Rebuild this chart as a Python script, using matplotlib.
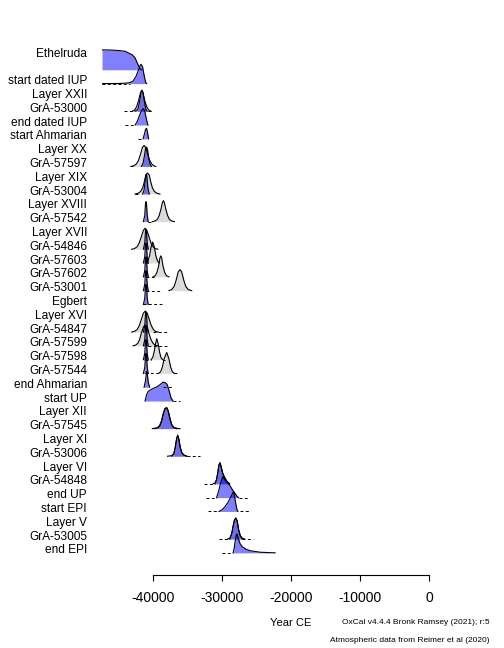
import matplotlib
matplotlib.use('Agg')
import matplotlib.pyplot as plt

plt.rcParams['font.family'] = ['Liberation Sans', 'DejaVu Sans']
plt.rcParams['axes.unicode_minus'] = False

# row labels, top to bottom ('' = unlabelled row under the sequence name)
labels = ['Ethelruda', '', 'start dated IUP', 'Layer XXII', 'GrA-53000', 'end dated IUP',
          'start Ahmarian', 'Layer XX', 'GrA-57597', 'Layer XIX', 'GrA-53004', 'Layer XVIII',
          'GrA-57542', 'Layer XVII', 'GrA-54846', 'GrA-57603', 'GrA-57602', 'GrA-53001',
          'Egbert', 'Layer XVI', 'GrA-54847', 'GrA-57599', 'GrA-57598', 'GrA-57544',
          'end Ahmarian', 'start UP', 'Layer XII', 'GrA-57545', 'Layer XI', 'GrA-53006',
          'Layer VI', 'GrA-54848', 'end UP', 'start EPI', 'Layer V', 'GrA-53005', 'end EPI']

x_ticks = [-40000, -30000, -20000, -10000, 0]

# likelihoods (unmodelled dates): years CE, relative probability
likelihoods = {
  'GrA-53000': ([-43000, -42700, -42400, -42100, -41850, -41650, -41450, -41200, -40900, -40600, -40300],
                [0, 0.05, 0.2, 0.5, 0.85, 1.0, 0.85, 0.5, 0.2, 0.05, 0]),
  'GrA-57597': ([-43200, -42800, -42400, -42100, -41800, -41550, -41300, -41050, -40800, -40500, -40200, -39900, -39600],
                [0, 0.03, 0.12, 0.3, 0.6, 0.9, 1.0, 0.9, 0.6, 0.3, 0.12, 0.03, 0]),
  'GrA-53004': ([-42600, -42200, -41800, -41500, -41250, -41050, -40800, -40550, -40350, -40100, -39800, -39400, -39000],
                [0, 0.03, 0.12, 0.3, 0.6, 0.9, 1.0, 0.9, 0.6, 0.3, 0.12, 0.03, 0]),
  'GrA-57542': ([-40100, -39700, -39350, -39100, -38850, -38650, -38500, -38350, -38150, -37900, -37650, -37300, -36900],
                [0, 0.03, 0.12, 0.3, 0.6, 0.9, 1.0, 0.9, 0.6, 0.3, 0.12, 0.03, 0]),
  'GrA-54846': ([-43100, -42700, -42300, -42000, -41700, -41400, -41150, -40900, -40600, -40300, -40000, -39700, -39300],
                [0, 0.03, 0.12, 0.3, 0.6, 0.9, 1.0, 0.9, 0.6, 0.3, 0.12, 0.03, 0]),
  'GrA-57603': ([-41000, -40750, -40500, -40300, -40050, -39800, -39600, -39350, -39100],
                [0, 0.1, 0.35, 0.75, 1.0, 0.75, 0.35, 0.1, 0]),
  'GrA-57602': ([-40000, -39700, -39450, -39200, -39000, -38880, -38750, -38550, -38300, -38050, -37700],
                [0, 0.05, 0.2, 0.5, 0.9, 1.0, 0.9, 0.5, 0.2, 0.05, 0]),
  'GrA-53001': ([-37700, -37300, -36950, -36650, -36350, -36100, -35850, -35550, -35250, -34900, -34400],
                [0, 0.05, 0.2, 0.5, 0.9, 1.0, 0.9, 0.5, 0.2, 0.05, 0]),
  'GrA-54847': ([-43100, -42700, -42300, -42000, -41700, -41400, -41120, -40850, -40550, -40250, -39950, -39650, -39250],
                [0, 0.03, 0.12, 0.3, 0.6, 0.9, 1.0, 0.9, 0.6, 0.3, 0.12, 0.03, 0]),
  'GrA-57599': ([-42900, -42550, -42200, -41950, -41700, -41400, -41150, -40900, -40600, -40300, -40000, -39700, -39300],
                [0, 0.03, 0.12, 0.3, 0.6, 0.9, 1.0, 0.9, 0.6, 0.3, 0.12, 0.03, 0]),
  'GrA-57598': ([-40300, -40050, -39850, -39650, -39460, -39250, -39050, -38850, -38600],
                [0, 0.1, 0.35, 0.75, 1.0, 0.75, 0.35, 0.1, 0]),
  'GrA-57544': ([-39200, -38900, -38650, -38400, -38020, -37700, -37450, -37200, -36900],
                [0, 0.08, 0.3, 0.7, 1.0, 0.7, 0.3, 0.08, 0]),
  'GrA-57545': ([-40100, -39500, -39100, -38800, -38550, -38300, -38050, -37800, -37550, -37300, -37000, -36500, -36100],
                [0, 0.03, 0.12, 0.35, 0.7, 0.95, 1.0, 0.85, 0.5, 0.2, 0.06, 0.01, 0]),
  'GrA-53006': ([-37900, -37300, -37000, -36800, -36600, -36430, -36250, -36050, -35800, -35500, -35100],
                [0, 0.03, 0.12, 0.4, 0.8, 1.0, 0.8, 0.4, 0.15, 0.05, 0]),
  'GrA-54848': ([-31300, -31000, -30800, -30600, -30450, -30300, -30150, -29950, -29700, -29450, -29200, -28900],
                [0, 0.05, 0.2, 0.55, 0.9, 1.0, 0.85, 0.55, 0.35, 0.2, 0.08, 0]),
  'GrA-53005': ([-29200, -28850, -28600, -28400, -28200, -28000, -27800, -27600, -27350, -27050, -26700],
                [0, 0.05, 0.25, 0.6, 0.9, 1.0, 0.85, 0.45, 0.15, 0.04, 0]),
}

# modelled (posterior) distributions
posteriors = {
  '': ([-47400, -46000, -45000, -44000, -43620, -43040, -42610, -42170, -41880, -41670],
       [0.95, 0.94, 0.92, 0.88, 0.81, 0.72, 0.57, 0.24, 0.05, 0]),
  'start dated IUP': ([-47400, -45000, -44060, -43330, -42900, -42460, -42170, -41880, -41740, -41520, -41300, -41090, -40940],
                      [0, 0.005, 0.02, 0.05, 0.12, 0.35, 0.6, 0.85, 0.92, 0.8, 0.4, 0.08, 0]),
  'GrA-53000': ([-42600, -42200, -41950, -41750, -41600, -41450, -41250, -41050, -40850],
                [0, 0.1, 0.45, 0.9, 1.0, 0.9, 0.45, 0.1, 0]),
  'end dated IUP': ([-42610, -42320, -42030, -41740, -41450, -41230, -41010, -40800, -40720],
                    [0, 0.15, 0.4, 0.65, 0.78, 0.7, 0.35, 0.05, 0]),
  'start Ahmarian': ([-41450, -41230, -41090, -40940, -40800, -40650],
                     [0, 0.25, 0.45, 0.5, 0.3, 0]),
  'GrA-57597': ([-41700, -41450, -41250, -41100, -40950, -40800, -40650, -40450, -40250],
                [0, 0.15, 0.5, 0.85, 0.92, 0.8, 0.45, 0.12, 0]),
  'GrA-53004': ([-41500, -41300, -41150, -41050, -40950, -40850, -40750, -40550],
                [0, 0.2, 0.6, 0.9, 0.95, 0.7, 0.3, 0]),
  'end Ahmarian': ([-41300, -41100, -40950, -40850, -40700, -40500],
                   [0, 0.3, 0.75, 0.7, 0.25, 0]),
  'start UP': ([-41160, -40940, -40720, -40430, -40000, -39420, -38990, -38550, -38260, -37970, -37680, -37390, -37100],
               [0, 0.3, 0.45, 0.52, 0.6, 0.68, 0.78, 0.9, 0.88, 0.8, 0.5, 0.15, 0]),
  'GrA-57545': ([-39800, -39300, -38950, -38700, -38450, -38200, -38000, -37780, -37550, -37300, -37000, -36600],
                [0, 0.04, 0.15, 0.4, 0.75, 0.97, 1.0, 0.82, 0.45, 0.18, 0.05, 0]),
  'GrA-53006': ([-37300, -37000, -36800, -36600, -36430, -36250, -36050, -35800, -35500, -35100],
                [0, 0.1, 0.38, 0.8, 1.0, 0.8, 0.4, 0.15, 0.05, 0]),
  'GrA-54848': ([-31000, -30800, -30600, -30450, -30300, -30150, -29950, -29700, -29450, -29200, -28900],
                [0, 0.2, 0.55, 0.9, 1.0, 0.85, 0.55, 0.35, 0.2, 0.08, 0]),
  'end UP': ([-30800, -30500, -30200, -29900, -29600, -29300, -28850, -28500, -28100, -27800, -27600],
             [0, 0.3, 0.7, 1.0, 0.85, 0.75, 0.57, 0.38, 0.2, 0.05, 0]),
  'start EPI': ([-30450, -30000, -29600, -29200, -28900, -28600, -28400, -28250, -28050, -27850, -27700],
                [0, 0.08, 0.22, 0.4, 0.58, 0.78, 0.92, 0.85, 0.45, 0.1, 0]),
  'GrA-53005': ([-28900, -28600, -28400, -28200, -28000, -27800, -27600, -27350, -27050],
                [0, 0.25, 0.6, 0.9, 1.0, 0.85, 0.45, 0.15, 0]),
  'end EPI': ([-28400, -28250, -28100, -27950, -27820, -27650, -27400, -27100, -26500, -25900, -24500, -22300],
              [0, 0.2, 0.55, 0.85, 0.9, 0.7, 0.45, 0.3, 0.17, 0.1, 0.03, 0]),
}

# narrow posteriors of the dates pinned near -41000
spike_rows = ['GrA-57542', 'GrA-54846', 'GrA-57603', 'GrA-57602', 'GrA-53001', 'Egbert',
              'GrA-54847', 'GrA-57599', 'GrA-57598', 'GrA-57544']
spike_x = [-41400, -41200, -41100, -41020, -40950, -40850, -40700]
spike_p = [0, 0.3, 0.85, 0.95, 0.85, 0.3, 0]

# dashed baseline stretches (year from, year to)
dashed = {
  'start dated IUP': [(-47400, -43300)],
  'GrA-53000': [(-44200, -42900), (-40700, -40150)],
  'end dated IUP': [(-44050, -42600)],
  'start Ahmarian': [(-42170, -41450)],
  'GrA-57597': [(-43300, -42900)],
  'GrA-53004': [(-42600, -42200)],
  'GrA-57542': [(-40700, -40100)],
  'GrA-57603': [(-40900, -40700)],
  'GrA-57602': [(-41000, -39850)],
  'GrA-53001': [(-41000, -38700)],
  'Egbert': [(-41450, -38700)],
  'GrA-54847': [(-40000, -37800)],
  'GrA-57599': [(-40700, -37950)],
  'GrA-57598': [(-41200, -40300), (-38600, -38300)],
  'GrA-57544': [(-41200, -39200), (-36900, -36600)],
  'end Ahmarian': [(-38500, -37100)],
  'start UP': [(-37100, -36100)],
  'GrA-53006': [(-35100, -33200)],
  'GrA-54848': [(-32600, -31000)],
  'end UP': [(-32300, -30800), (-27600, -26200)],
  'start EPI': [(-32000, -30450), (-27400, -25950)],
  'GrA-53005': [(-30400, -28900), (-27050, -25500)],
  'end EPI': [(-30000, -28400)],
}


def main():
  fig = plt.figure(figsize=(5.04, 6.48), dpi=100)
  ax = fig.add_axes([102 / 504, 83 / 648, 327 / 504, 525 / 648])

  row = {lab: i for i, lab in enumerate(labels)}
  base_off = 0.29   # baseline sits a little under the label centre
  scale = 1.52      # peak height in rows

  def base_of(lab):
    return row[lab] + base_off

  # likelihoods first, light grey
  for lab, (xs, ps) in likelihoods.items():
    b = base_of(lab)
    ys = [b - p * scale for p in ps]
    ax.fill_between(xs, b, ys, color='#bfbfbf', alpha=0.55, lw=0, zorder=1)
    ax.plot(xs, ys, color='black', lw=0.8, zorder=4)

  # posteriors, semi transparent blue
  post = dict(posteriors)
  for lab in spike_rows:
    post[lab] = (spike_x, spike_p)
  for lab, (xs, ps) in post.items():
    b = base_of(lab)
    ys = [b - p * scale for p in ps]
    ax.fill_between(xs, b, ys, color='blue', alpha=0.5, lw=0, zorder=2)
    ax.plot(xs, ys, color='black', lw=0.8, zorder=4)

  for lab, segs in dashed.items():
    b = base_of(lab)
    for x0, x1 in segs:
      ax.plot([x0, x1], [b, b], color='black', lw=0.7, ls=(0, (3, 2.5)), zorder=3)

  ax.set_xlim(-47400, 0)
  ax.set_ylim(37.17, -0.87)

  ax.set_yticks(range(len(labels)))
  ax.set_yticklabels(labels, fontsize=8.6)
  ax.tick_params(axis='y', length=0, pad=10.8)

  ax.set_xticks(x_ticks)
  ax.set_xticklabels([str(t) for t in x_ticks], fontsize=7.7)
  ax.tick_params(axis='x', length=4, width=0.8, pad=7.5)

  for s in ['top', 'right', 'left']:
    ax.spines[s].set_visible(False)
  ax.spines['bottom'].set_bounds(-40000, 0)
  ax.spines['bottom'].set_position(('outward', 7.2))
  ax.spines['bottom'].set_linewidth(0.8)

  fig.text(291 / 504, 1 - 623 / 648, 'Year CE', fontsize=8, ha='center', va='center')
  fig.text(490 / 504, 1 - 623 / 648, 'OxCal v4.4.4 Bronk Ramsey (2021); r:5',
           fontsize=6, ha='right', va='center')
  fig.text(490 / 504, 1 - 641 / 648, 'Atmospheric data from Reimer et al (2020)',
           fontsize=6, ha='right', va='center')

  fig.savefig('out.png', dpi=100)


if __name__ == '__main__':
  main()
